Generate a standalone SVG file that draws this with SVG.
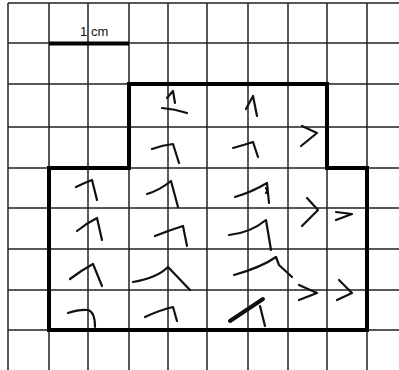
<svg xmlns="http://www.w3.org/2000/svg" width="399" height="370" viewBox="0 0 399 370">
<style>
.grid{stroke:#222;stroke-width:1.5;fill:none}
.outline{stroke:#000;stroke-width:4;fill:none;stroke-linejoin:miter}
.mark{stroke:#111;stroke-width:2.2;fill:none;stroke-linecap:round;stroke-linejoin:round}
.label{font-family:"Liberation Sans",Arial,sans-serif;font-size:13px;fill:#111}
</style>
<rect width="399" height="370" fill="#fff"/>
<g id="grid" class="grid">
<path d="M8,3V370M49,3V370M88,3V370M129,3V370M168,3V370M207,3V370M248,3V370M288,3V370M327,3V370M367,3V370"/>
<path d="M8,3H399M8,43H399M8,84H399M8,127H399M8,168H399M8,208H399M8,249H399M8,290H399M8,330H399"/>
</g>
<g id="scale">
<line x1="49" y1="43.5" x2="129" y2="43.5" stroke="#000" stroke-width="4"/>
<text class="label" x="80" y="36">1</text>
<text class="label" x="91" y="36">cm</text>
</g>
<g id="outline">
<path class="outline" d="M129,84H327V168H367V330H49V168H129Z"/>
</g>
<g id="marks" class="mark">
<path d="M167,98L173,91L175,103"/>
<path d="M162,108Q175,109 187,113"/>
<path d="M246,109L253,96L257,116"/>
<path d="M152,149Q163,145 173,144L179,163"/>
<path d="M233,148Q244,145 253,142L258,157"/>
<path d="M302,126L317,133L301,146"/>
<path d="M76,187Q84,183 92,180L97,200"/>
<path d="M147,194Q160,190 171,181L178,207"/>
<path d="M77,231Q87,223 97,218L102,240"/>
<path d="M155,236Q170,230 183,226L187,246"/>
<path d="M235,197Q252,192 267,183L269,203"/>
<path d="M266,188Q268,191 266,193"/>
<path d="M307,198L318,210L302,226"/>
<path d="M336,212L352,214L336,220"/>
<path d="M229,235Q250,233 266,220L271,250"/>
<path d="M70,279Q82,270 93,264L102,286"/>
<path d="M133,282Q157,278 168,267L190,290"/>
<path d="M68,313Q80,309 88,310Q95,312 95,327"/>
<path d="M145,317Q160,310 173,307L177,321"/>
<path d="M234,275Q262,267 276,257L279,265L292,277"/>
<path d="M299,285L317,293L299,300"/>
<path d="M339,280L352,293L337,300"/>
<path d="M230,321L263,299" stroke-width="4"/>
<path d="M260,306L265,326"/>
</g>
</svg>
